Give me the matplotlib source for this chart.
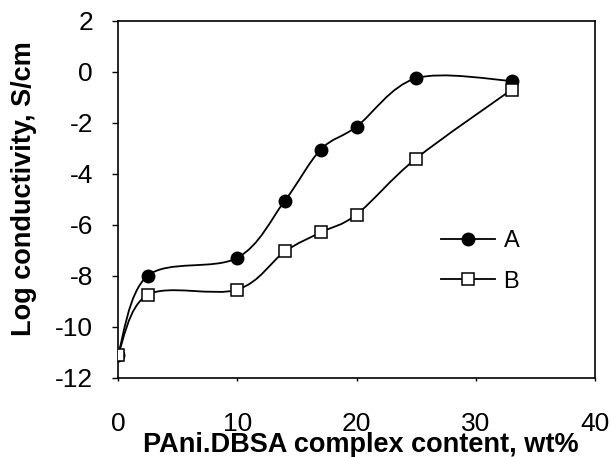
import matplotlib
matplotlib.use("Agg")
import matplotlib.pyplot as plt
import numpy as np
from matplotlib.path import Path
from matplotlib.patches import PathPatch
from matplotlib.lines import Line2D

plt.rcParams['font.family'] = ['Liberation Sans', 'DejaVu Sans']

# data
content = [0, 2.5, 10, 14, 17, 20, 25, 33]
series_a = [-11.1, -8.0, -7.3, -5.05, -3.05, -2.15, -0.25, -0.35]
series_b = [-11.1, -8.75, -8.55, -7.05, -6.3, -5.6, -3.4, -0.7]
labels = ['A', 'B']
x_ticks = [0, 10, 20, 30, 40]
y_ticks = [-12, -10, -8, -6, -4, -2, 0, 2]


def smooth_path(xs, ys):
    # Excel-style smoothed line: cubic Bezier through every point
    pts = np.column_stack([xs, ys]).astype(float)
    n = len(pts)
    verts = [pts[0]]
    codes = [Path.MOVETO]
    for i in range(n - 1):
        p0 = pts[i - 1] if i > 0 else pts[i]
        p1 = pts[i]
        p2 = pts[i + 1]
        p3 = pts[i + 2] if i + 2 < n else pts[i + 1]
        c1 = p1 + (p2 - p0) / 6.0
        c2 = p2 - (p3 - p1) / 6.0
        verts += [c1, c2, p2]
        codes += [Path.CURVE4] * 3
    return Path(verts, codes)


fig = plt.figure(figsize=(6.11, 4.57), dpi=100)
ax = fig.add_axes([118 / 611, 1 - 377.5 / 457, 477 / 611, 356.5 / 457])

for ys in (series_a, series_b):
    ax.add_patch(PathPatch(smooth_path(content, ys), fill=False,
                           edgecolor='black', linewidth=1.3, zorder=2))

ax.plot(content, series_a, linestyle='none', marker='o', markersize=9,
        markerfacecolor='black', markeredgecolor='black', zorder=3)
ax.plot(content, series_b, linestyle='none', marker='s', markersize=8,
        markerfacecolor='white', markeredgecolor='black',
        markeredgewidth=1.1, zorder=4)

ax.set_xlim(0, 40)
ax.set_ylim(-12, 2)
ax.set_xticks(x_ticks)
ax.set_yticks(y_ticks)
ax.set_xticklabels([str(t) for t in x_ticks])
ax.set_yticklabels([str(t) for t in y_ticks])
ax.tick_params(axis='y', direction='out', length=4, width=1, pad=14, labelsize=19)
ax.tick_params(axis='x', direction='out', length=2, width=1, pad=23, labelsize=19)
for s in ax.spines.values():
    s.set_linewidth(1.2)

ax.set_xlabel('PAni.DBSA complex content, wt%', fontsize=19.5, fontweight='bold')
ax.xaxis.set_label_coords(0.509, -0.154)
ax.set_ylabel('Log conductivity, S/cm', fontsize=19.5, fontweight='bold')
ax.yaxis.set_label_coords(-0.17, 0.53)

handles = [
    Line2D([], [], color='black', linewidth=1.3, marker='o', markersize=9,
           markerfacecolor='black'),
    Line2D([], [], color='black', linewidth=1.3, marker='s', markersize=8,
           markerfacecolor='white', markeredgewidth=1.1),
]
ax.legend(handles, labels, loc='center left', bbox_to_anchor=(0.677, 0.326),
          frameon=False, fontsize=17, handlelength=2.3, handletextpad=0.35,
          labelspacing=0.8, borderpad=0, borderaxespad=0)

fig.savefig('out.png', dpi=100)
